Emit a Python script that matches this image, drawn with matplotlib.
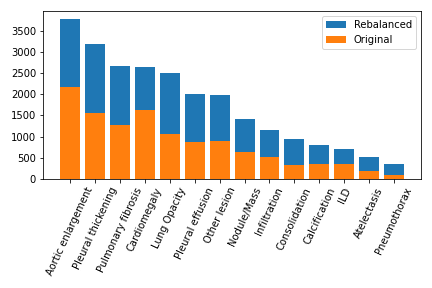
import matplotlib
matplotlib.use("Agg")
import matplotlib.pyplot as plt

labels = ["Aortic enlargement", "Pleural thickening", "Pulmonary fibrosis",
          "Cardiomegaly", "Lung Opacity", "Pleural effusion", "Other lesion",
          "Nodule/Mass", "Infiltration", "Consolidation", "Calcification",
          "ILD", "Atelectasis", "Pneumothorax"]
rebalanced = [3790, 3200, 2680, 2655, 2515, 2010, 1995, 1425, 1165, 930, 790, 695, 505, 340]
original = [2185, 1565, 1285, 1640, 1070, 860, 905, 645, 505, 315, 360, 340, 175, 100]

fig, ax = plt.subplots(figsize=(6, 4), dpi=72)
x = range(len(labels))
ax.bar(x, rebalanced, label="Rebalanced", color="#1f77b4")
ax.bar(x, original, label="Original", color="#ff7f0e")
ax.set_xticks(list(x))
ax.set_xticklabels(labels, rotation=65)
ax.legend()

plt.tight_layout()
fig.savefig("out.png", dpi=72)
